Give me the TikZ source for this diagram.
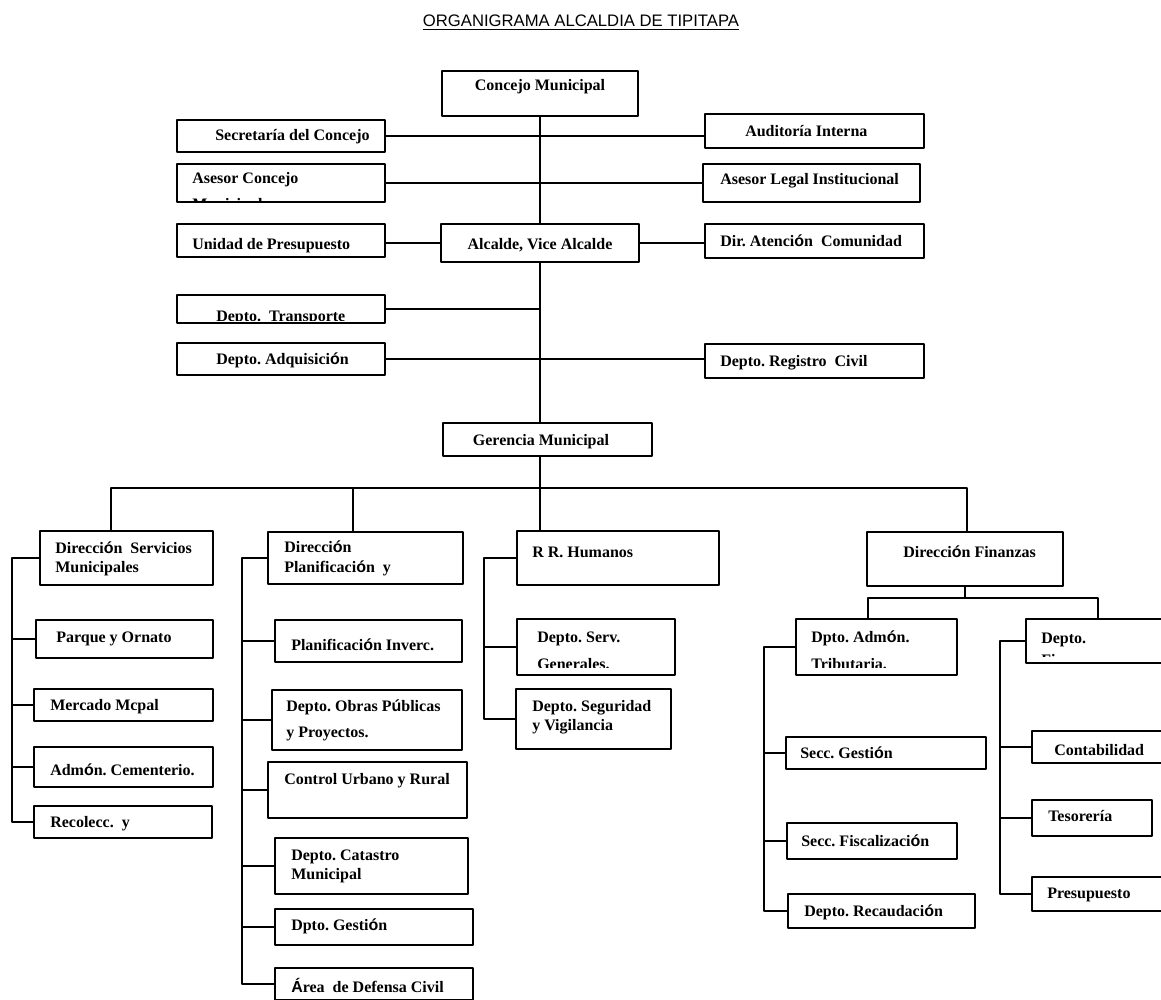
\documentclass[tikz,border=0pt]{standalone}
\usepackage{fontspec}
\setmainfont{Liberation Serif}
\newfontfamily\arialf{Liberation Sans}
\usetikzlibrary{fit}
\newcommand\sg[1]{{\arialf #1}}
\frenchspacing
\tikzset{
	box/.style={draw, line width=1.4pt, inner sep=0pt, fit={#1}},
	lbl/.style={font=\bfseries\fontsize{12}{14.5}\selectfont, inner sep=0pt, anchor=west, align=left},
	link/.style={line width=1.4pt},
}
\begin{document}
\begin{tikzpicture}[x=0.75pt, y=-0.75pt, line join=round]
	\useasboundingbox (0,0) rectangle (1161,1000);
	\node[font=\arialf\fontsize{12.5}{15}\selectfont, inner sep=0pt] (title) at (581,21) {ORGANIGRAMA ALCALDIA DE TIPITAPA};
	\draw[line width=0.9pt] ([yshift=-2pt]title.base west) -- ([yshift=-2pt]title.base east);
	% boxes
	\node[box={(442,71) (638,116)}] (concejo) {};
	\node[box={(177,120) (385,152)}] (sec) {};
	\node[box={(705,114) (924,148)}] (aud) {};
	\node[box={(177,164) (385,202)}] (asesorC) {};
	\node[box={(703,164) (920,202)}] (asesorL) {};
	\node[box={(177,224) (385,257)}] (presup) {};
	\node[box={(441,224) (639,262)}] (alcalde) {};
	\node[box={(705,224) (924,258)}] (aten) {};
	\node[box={(177,295) (385,323)}] (transp) {};
	\node[box={(177,343) (385,375)}] (adq) {};
	\node[box={(705,344) (924,378)}] (reg) {};
	\node[box={(443,423) (652,456)}] (ger) {};
	%===
	\node[box={(40,531) (213,585)}] (dsm) {};
	\node[box={(36,620) (213,658)}] (parque) {};
	\node[box={(34,689) (213,721)}] (mercado) {};
	\node[box={(34,747) (213,787)}] (admon) {};
	\node[box={(34,806) (212,838)}] (recolec) {};
	\node[box={(268,532) (463,584)}] (dplan) {};
	\node[box={(275,620) (462,662)}] (planinv) {};
	\node[box={(272,690) (462,750)}] (obras) {};
	\node[box={(268,762) (467,818)}] (control) {};
	\node[box={(275,838) (468,894)}] (catastro) {};
	\node[box={(275,909) (473,945)}] (gestion) {};
	\node[box={(275,968) (473,1000)}] (defensa) {};
	\node[box={(517,531) (719,585)}] (rrh) {};
	\node[box={(517,619) (675,675)}] (serv) {};
	\node[box={(516,689) (671,749)}] (segur) {};
	\node[box={(867,532) (1063,586)}] (dfin) {};
	\node[box={(796,619) (957,675)}] (dtrib) {};
	\node[box={(1026,619) (1175,663)}] (dfinz) {};
	\node[box={(786,737) (986,769)}] (gestsec) {};
	\node[box={(787,823) (957,859)}] (fisc) {};
	\node[box={(788,894) (975,928)}] (recaud) {};
	\node[box={(1032,731) (1175,763)}] (contab) {};
	\node[box={(1032,800) (1152,836)}] (tesor) {};
	\node[box={(1032,877) (1175,911)}] (presu) {};
	% texts
	\node[lbl, anchor=center] (t-concejo) at (540,87) {Concejo Municipal};
	\node[lbl] (t-sec) at (215,137) {Secretaría del Concejo};
	\node[lbl] (t-aud) at (745,131) {Auditoría Interna};
	\begin{scope}
		\clip (asesorC.north west) rectangle ([yshift=1.5pt]asesorC.south east);
		\node[lbl] (t-asesorC) at (192,193) {Asesor Concejo\\[5pt]Municipal};
	\end{scope}
	\node[lbl] (t-asesorL) at (720,181) {Asesor Legal Institucional};
	\node[lbl] (t-presup) at (192,246) {Unidad de Presupuesto};
	\node[lbl, anchor=center] (t-alcalde) at (540,245) {Alcalde, Vice Alcalde};
	\node[lbl] (t-aten) at (720,241) {Dir. Atenci\sg{ó}n\ \ Comunidad};
	\begin{scope}
		\clip (transp.north west) rectangle ([yshift=2.5pt]transp.south east);
		\node[lbl] (t-transp) at (216,318) {Depto.\ \ Transporte};
	\end{scope}
	\node[lbl] (t-adq) at (216,360) {Depto. Adquisici\sg{ó}n};
	\node[lbl] (t-reg) at (720,363) {Depto. Registro\ \ Civil};
	\node[lbl, anchor=center] (t-ger) at (541,442) {Gerencia Municipal};
	%===
	\node[lbl] (t-dsm) at (55,558.5) {Direcci\sg{ó}n\ \ Servicios\\Municipales};
	\node[lbl] (t-parque) at (56,639) {Parque y Ornato};
	\node[lbl] (t-mercado) at (50,707) {Mercado Mcpal};
	\node[lbl] (t-admon) at (50,770) {Adm\sg{ó}n. Cementerio.};
	\node[lbl] (t-recolec) at (50,824) {Recolecc.\ \ y};
	\node[lbl] (t-dplan) at (284,558.5) {Direcci\sg{ó}n\\Planificaci\sg{ó}n\ \ y};
	\node[lbl] (t-planinv) at (291,645) {Planificaci\sg{ó}n Inverc.};
	\node[lbl] (t-obras) at (286,720) {Depto. Obras P\sg{ú}blicas\\[5pt]y Proyectos.};
	\node[lbl] (t-control) at (284,781) {Control Urbano y Rural};
	\node[lbl] (t-catastro) at (291,866.5) {Depto. Catastro\\Municipal};
	\node[lbl] (t-gestion) at (291,926) {Dpto. Gesti\sg{ó}n};
	\node[lbl] (t-defensa) at (291,985) {\sg{Á}rea\ \ de Defensa Civil};
	\node[lbl] (t-rrh) at (532,552) {R R. Humanos};
	\begin{scope}
		\clip (serv.north west) rectangle ([yshift=6pt]serv.south east);
		\node[lbl] (t-serv) at (537,650.5) {Depto. Serv.\\[5.75pt]Generales.};
	\end{scope}
	\node[lbl] (t-segur) at (532,717.5) {Depto. Seguridad\\y Vigilancia};
	\node[lbl] (t-dfin) at (903,552) {Direcci\sg{ó}n Finanzas};
	\begin{scope}
		\clip (dtrib.north west) rectangle ([yshift=6pt]dtrib.south east);
		\node[lbl] (t-dtrib) at (811,650.5) {Dpto. Adm\sg{ó}n.\\[5.75pt]Tributaria.};
	\end{scope}
	\begin{scope}
		\clip (dfinz.north west) rectangle ([yshift=5.25pt]dfinz.south east);
		\node[lbl] (t-dfinz) at (1041,649) {Depto.\\[2pt]Finanzas};
	\end{scope}
	\node[lbl] (t-gestsec) at (800,753) {Secc. Gesti\sg{ó}n};
	\node[lbl] (t-fisc) at (801,841) {Secc. Fiscalizaci\sg{ó}n};
	\node[lbl] (t-recaud) at (804,912) {Depto. Recaudaci\sg{ó}n};
	\node[lbl] (t-contab) at (1054,750) {Contabilidad};
	\node[lbl] (t-tesor) at (1048,816) {Tesorería};
	\node[lbl] (t-presu) at (1047,895) {Presupuesto};
	% lines
	\draw[link] (concejo.south) -- (alcalde.north);
	\draw[link] (alcalde.south) -- (alcalde.south |- ger.north);
	\draw[link] (sec.east) -- (sec.east -| aud.west);
	\draw[link] (asesorC.east) -- (asesorC.east -| asesorL.west);
	\draw[link] (alcalde.west) -- (alcalde.west -| presup.east);
	\draw[link] (alcalde.east) -- (alcalde.east -| aten.west);
	\draw[link] (transp.east) -- (transp.east -| alcalde.south);
	\draw[link] (adq.east) -- (adq.east -| reg.west);
	%===
	\coordinate (busL) at (111,488);
	\coordinate (busP) at (353,488);
	\coordinate (busR) at (967,488);
	\draw[link] (alcalde.south |- ger.south) -- (alcalde.south |- rrh.north);
	\draw[link] (busL |- dsm.north) -- (busL) -- (busR) -- (busR |- dfin.north);
	\draw[link] (busP) -- (busP |- dplan.north);
	% columns
	\coordinate (s1) at (12,0);
	\coordinate (s2) at (242,0);
	\coordinate (s3) at (484,0);
	\coordinate (s4) at (764,0);
	\coordinate (s5) at (1000,0);
	\draw[link] (dsm.west) -- (dsm.west -| s1) -- (recolec.west -| s1) -- (recolec.west);
	\foreach \n in {parque,mercado,admon} \draw[link] (\n.west) -- (\n.west -| s1);
	\draw[link] (dplan.west) -- (dplan.west -| s2) -- (defensa.west -| s2) -- (defensa.west);
	\foreach \n in {planinv,obras,control,catastro,gestion} \draw[link] (\n.west) -- (\n.west -| s2);
	\draw[link] (rrh.west) -- (rrh.west -| s3) -- (segur.west -| s3) -- (segur.west);
	\draw[link] (serv.west) -- (serv.west -| s3);
	%===
	\coordinate (fL) at (868,598);
	\coordinate (fR) at (1098,598);
	\draw[link] (dfin.south) -- (dfin.south |- fL);
	\draw[link] (fL |- dtrib.north) -- (fL) -- (fR) -- (fR |- dfinz.north);
	\draw[link] (dtrib.west) -- (dtrib.west -| s4) -- (recaud.west -| s4) -- (recaud.west);
	\foreach \n in {gestsec,fisc} \draw[link] (\n.west) -- (\n.west -| s4);
	\draw[link] (dfinz.west) -- (dfinz.west -| s5) -- (presu.west -| s5) -- (presu.west);
	\foreach \n in {contab,tesor} \draw[link] (\n.west) -- (\n.west -| s5);
\end{tikzpicture}
\end{document}
